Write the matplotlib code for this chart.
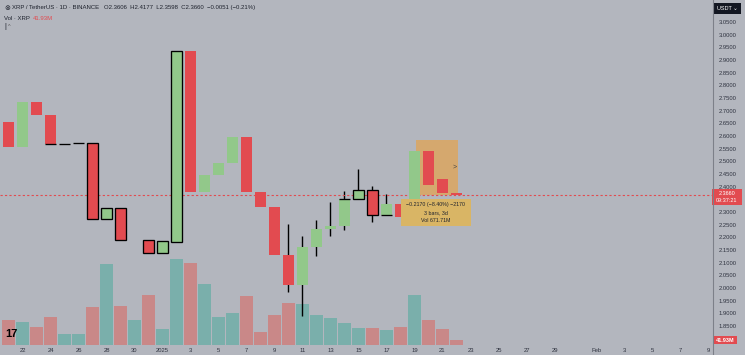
import matplotlib
matplotlib.use("Agg")
import matplotlib.pyplot as plt
import numpy as np
from matplotlib.patches import Rectangle

plt.rcParams['font.family'] = ['Liberation Sans', 'DejaVu Sans']

# ---------------- data ----------------
bar_index = list(range(1, 34))
opens  = [2.655, 2.558, 2.734, 2.683, 2.567, 2.571, 2.571, 2.271, 2.316, np.nan, 2.189, 2.137, 2.183,
          2.936, 2.380, 2.446, 2.493, 2.596, 2.380, 2.320, 2.130, 2.012, 2.162, 2.233, 2.246,
          2.351, 2.387, 2.288, 2.331, 2.280, 2.541, 2.430, 2.375]
closes = [2.558, 2.733, 2.684, 2.567, 2.567, 2.571, 2.271, 2.316, 2.189, np.nan, 2.138, 2.184, 2.936,
          2.380, 2.446, 2.493, 2.596, 2.380, 2.320, 2.130, 2.012, 2.162, 2.233, 2.245, 2.351,
          2.387, 2.288, 2.331, 2.280, 2.541, 2.4065, 2.375, 2.367]
highs  = [np.nan] * 20 + [2.2525, 2.205, 2.268, 2.339, 2.384, 2.470, 2.403, 2.371] + [np.nan] * 5
lows   = [np.nan] * 20 + [1.984, 1.889, 2.126, 2.205, 2.229, 2.351, 2.260, 2.288] + [np.nan] * 5
# second (outlined) series
ov_open  = [np.nan, np.nan, np.nan, 2.567, 2.567, 2.571, 2.571, 2.271, 2.316, np.nan, 2.189, 2.137, 2.183] \
           + [np.nan] * 11 + [2.351, 2.351, 2.387, 2.288] + [np.nan] * 5
ov_close = [np.nan, np.nan, np.nan, 2.567, 2.567, 2.571, 2.271, 2.316, 2.189, np.nan, 2.138, 2.184, 2.936] \
           + [np.nan] * 11 + [2.351, 2.387, 2.288, 2.288] + [np.nan] * 5
volume_m = [210, 193, 151, 235, 92, 92, 319, 680, 328, 210, 420, 134, 722, 689, 512, 235, 269, 412,
            109, 252, 353, 344, 252, 227, 185, 143, 143, 126, 151, 420, 210, 134, 41.93]
vol_up   = [0, 1, 0, 0, 1, 1, 0, 1, 0, 1, 0, 1, 1, 0, 1, 1, 1, 0, 0, 0, 0, 1, 1, 1, 1, 1, 0, 1, 0, 1, 0, 0, 0]

price_ticks = [1.85, 1.90, 1.95, 2.00, 2.05, 2.10, 2.15, 2.20, 2.25, 2.30, 2.40, 2.45, 2.50, 2.55,
               2.60, 2.65, 2.70, 2.75, 2.80, 2.85, 2.90, 2.95, 3.00, 3.05]
time_tick_idx = [2, 4, 6, 8, 10, 12, 14, 16, 18, 20, 22, 24, 26, 28, 30, 32, 34, 36, 38, 40, 43, 45, 47, 49, 51]
time_tick_lbl = ['22', '24', '26', '28', '30', '2025', '3', '5', '7', '9', '11', '13', '15', '17', '19',
                 '21', '23', '25', '27', '29', 'Feb', '3', '5', '7', '9']

last_price = 2.366
last_vol_label = '41.93M'
measure_from, measure_to = 30.1, 33.1
measure_hi, measure_lo = 2.584, 2.367

# ---------------- style ----------------
BG = '#b3b6be'
GREEN = '#92c88a'
RED = '#e24b50'
VTEAL = '#7aafab'
VRED = '#c98888'
TXT = '#1e222d'
AXTXT = '#2f3340'

W, H = 745, 355
fig = plt.figure(figsize=(W / 100, H / 100), dpi=100, facecolor=BG)

def fx(x):
    return x / W

def fy(y):
    return 1 - y / H

rect = [0, fy(345), fx(712), 345 / H]
axv = fig.add_axes(rect)
ax = fig.add_axes(rect)
axv.set_facecolor(BG)
ax.patch.set_alpha(0)

x = np.array(bar_index, dtype=float)
xlim = (0.393, 51.25)

# volume
vcol = [VTEAL if u else VRED for u in vol_up]
axv.bar(x, volume_m, width=0.93, color=vcol, linewidth=0)
axv.set_xlim(*xlim)
axv.set_ylim(0, max(volume_m) * 4.0)
axv.axis('off')

# measurement box
ax.add_patch(Rectangle((measure_from, measure_lo), measure_to - measure_from, measure_hi - measure_lo,
                       facecolor='#d9a765', alpha=0.9, edgecolor='none', zorder=1))

# wicks
o = np.array(opens); c = np.array(closes)
hi = np.array(highs); lo = np.array(lows)
m = ~np.isnan(hi)
ax.vlines(x[m], lo[m], hi[m], color='black', linewidth=1.0, zorder=2)

# bodies
col = [GREEN if cc >= oo else RED for oo, cc in zip(opens, closes)]
ax.bar(x, c - o, bottom=o, width=0.79, color=col, linewidth=0, zorder=3)

# outlined series
oo_ = np.array(ov_open); oc_ = np.array(ov_close)
mm = ~np.isnan(oo_)
ax.bar(x[mm], oc_[mm] - oo_[mm], bottom=oo_[mm], width=0.82, fill=False,
       edgecolor='black', linewidth=0.95, zorder=4)

# last price line
ax.axhline(last_price, color=RED, linewidth=0.8, linestyle=(0, (2, 2)), zorder=2)

ax.set_xlim(*xlim)
ax.set_ylim(1.7748, 3.1369)
for s in ax.spines.values():
    s.set_visible(False)

ax.yaxis.tick_right()
ax.set_yticks(price_ticks)
ax.set_yticklabels([f'{t:.4f}' for t in price_ticks])
ax.tick_params(axis='y', length=0, pad=5, labelsize=4.2, labelcolor=AXTXT)
ax.set_xticks(time_tick_idx)
ax.set_xticklabels(time_tick_lbl)
ax.tick_params(axis='x', length=0, pad=2.5, labelsize=4.2, labelcolor=AXTXT)

# separator lines
fig.add_artist(plt.Line2D([fx(712.5), fx(712.5)], [0, 1], color='#7d8089', linewidth=0.8))

# price label box
fig.add_artist(Rectangle((fx(712), fy(205)), fx(30), 16 / H, facecolor=RED, edgecolor='none'))
fig.text(fx(727), fy(193.5), f'{last_price:.4f}', color='white', fontsize=4.0, ha='center', va='center')
fig.text(fx(727), fy(200.5), '09:37:21', color='white', fontsize=4.0, ha='center', va='center')

# volume label box
fig.add_artist(Rectangle((fx(713), fy(344)), fx(24), 8 / H, facecolor=RED, edgecolor='none'))
fig.text(fx(725), fy(340), last_vol_label, color='white', fontsize=4.0, ha='center', va='center',
         fontweight='bold')

# USDT box
fig.add_artist(Rectangle((fx(714), fy(14)), fx(27), 11 / H, facecolor='#131722', edgecolor='none'))
fig.text(fx(727.5), fy(8.5), 'USDT ⌄', color='white', fontsize=4.0, ha='center', va='center')

# legend texts
fig.text(fx(4), fy(8), '⊗', color=TXT, fontsize=5, ha='left', va='center')
fig.text(fx(12), fy(8), 'XRP / TetherUS · 1D · BINANCE   O2.3606  H2.4177  L2.3598  C2.3660  −0.0051 (−0.21%)',
         color=TXT, fontsize=4.3, ha='left', va='center')
fig.text(fx(4), fy(18), 'Vol · XRP', color=TXT, fontsize=4.3, ha='left', va='center')
fig.text(fx(33), fy(18), '41.93M', color=RED, fontsize=4.3, ha='left', va='center')
fig.text(fx(4), fy(27), '|', color=TXT, fontsize=5, ha='left', va='center')
fig.text(fx(8), fy(27), '^', color='#555', fontsize=4, ha='left', va='center')

# measurement tooltip
fig.add_artist(Rectangle((fx(401), fy(226)), fx(70), 27 / H, facecolor='#d9b565', edgecolor='none'))
fig.text(fx(436), fy(204.5), '−0.2170 (−8.40%) −2170', color=TXT, fontsize=3.8, ha='center', va='center')
fig.text(fx(436), fy(212.5), '3 bars, 3d', color=TXT, fontsize=3.8, ha='center', va='center')
fig.text(fx(436), fy(220.5), 'Vol 671.71M', color=TXT, fontsize=3.8, ha='center', va='center')
fig.text(fx(455), fy(167), '>', color='#444', fontsize=5, ha='center', va='center')

# TV logo
fig.text(fx(5), fy(334), '17', color='black', fontsize=8, fontweight='bold', ha='left', va='center')

fig.savefig('out.png', dpi=100, facecolor=BG)
